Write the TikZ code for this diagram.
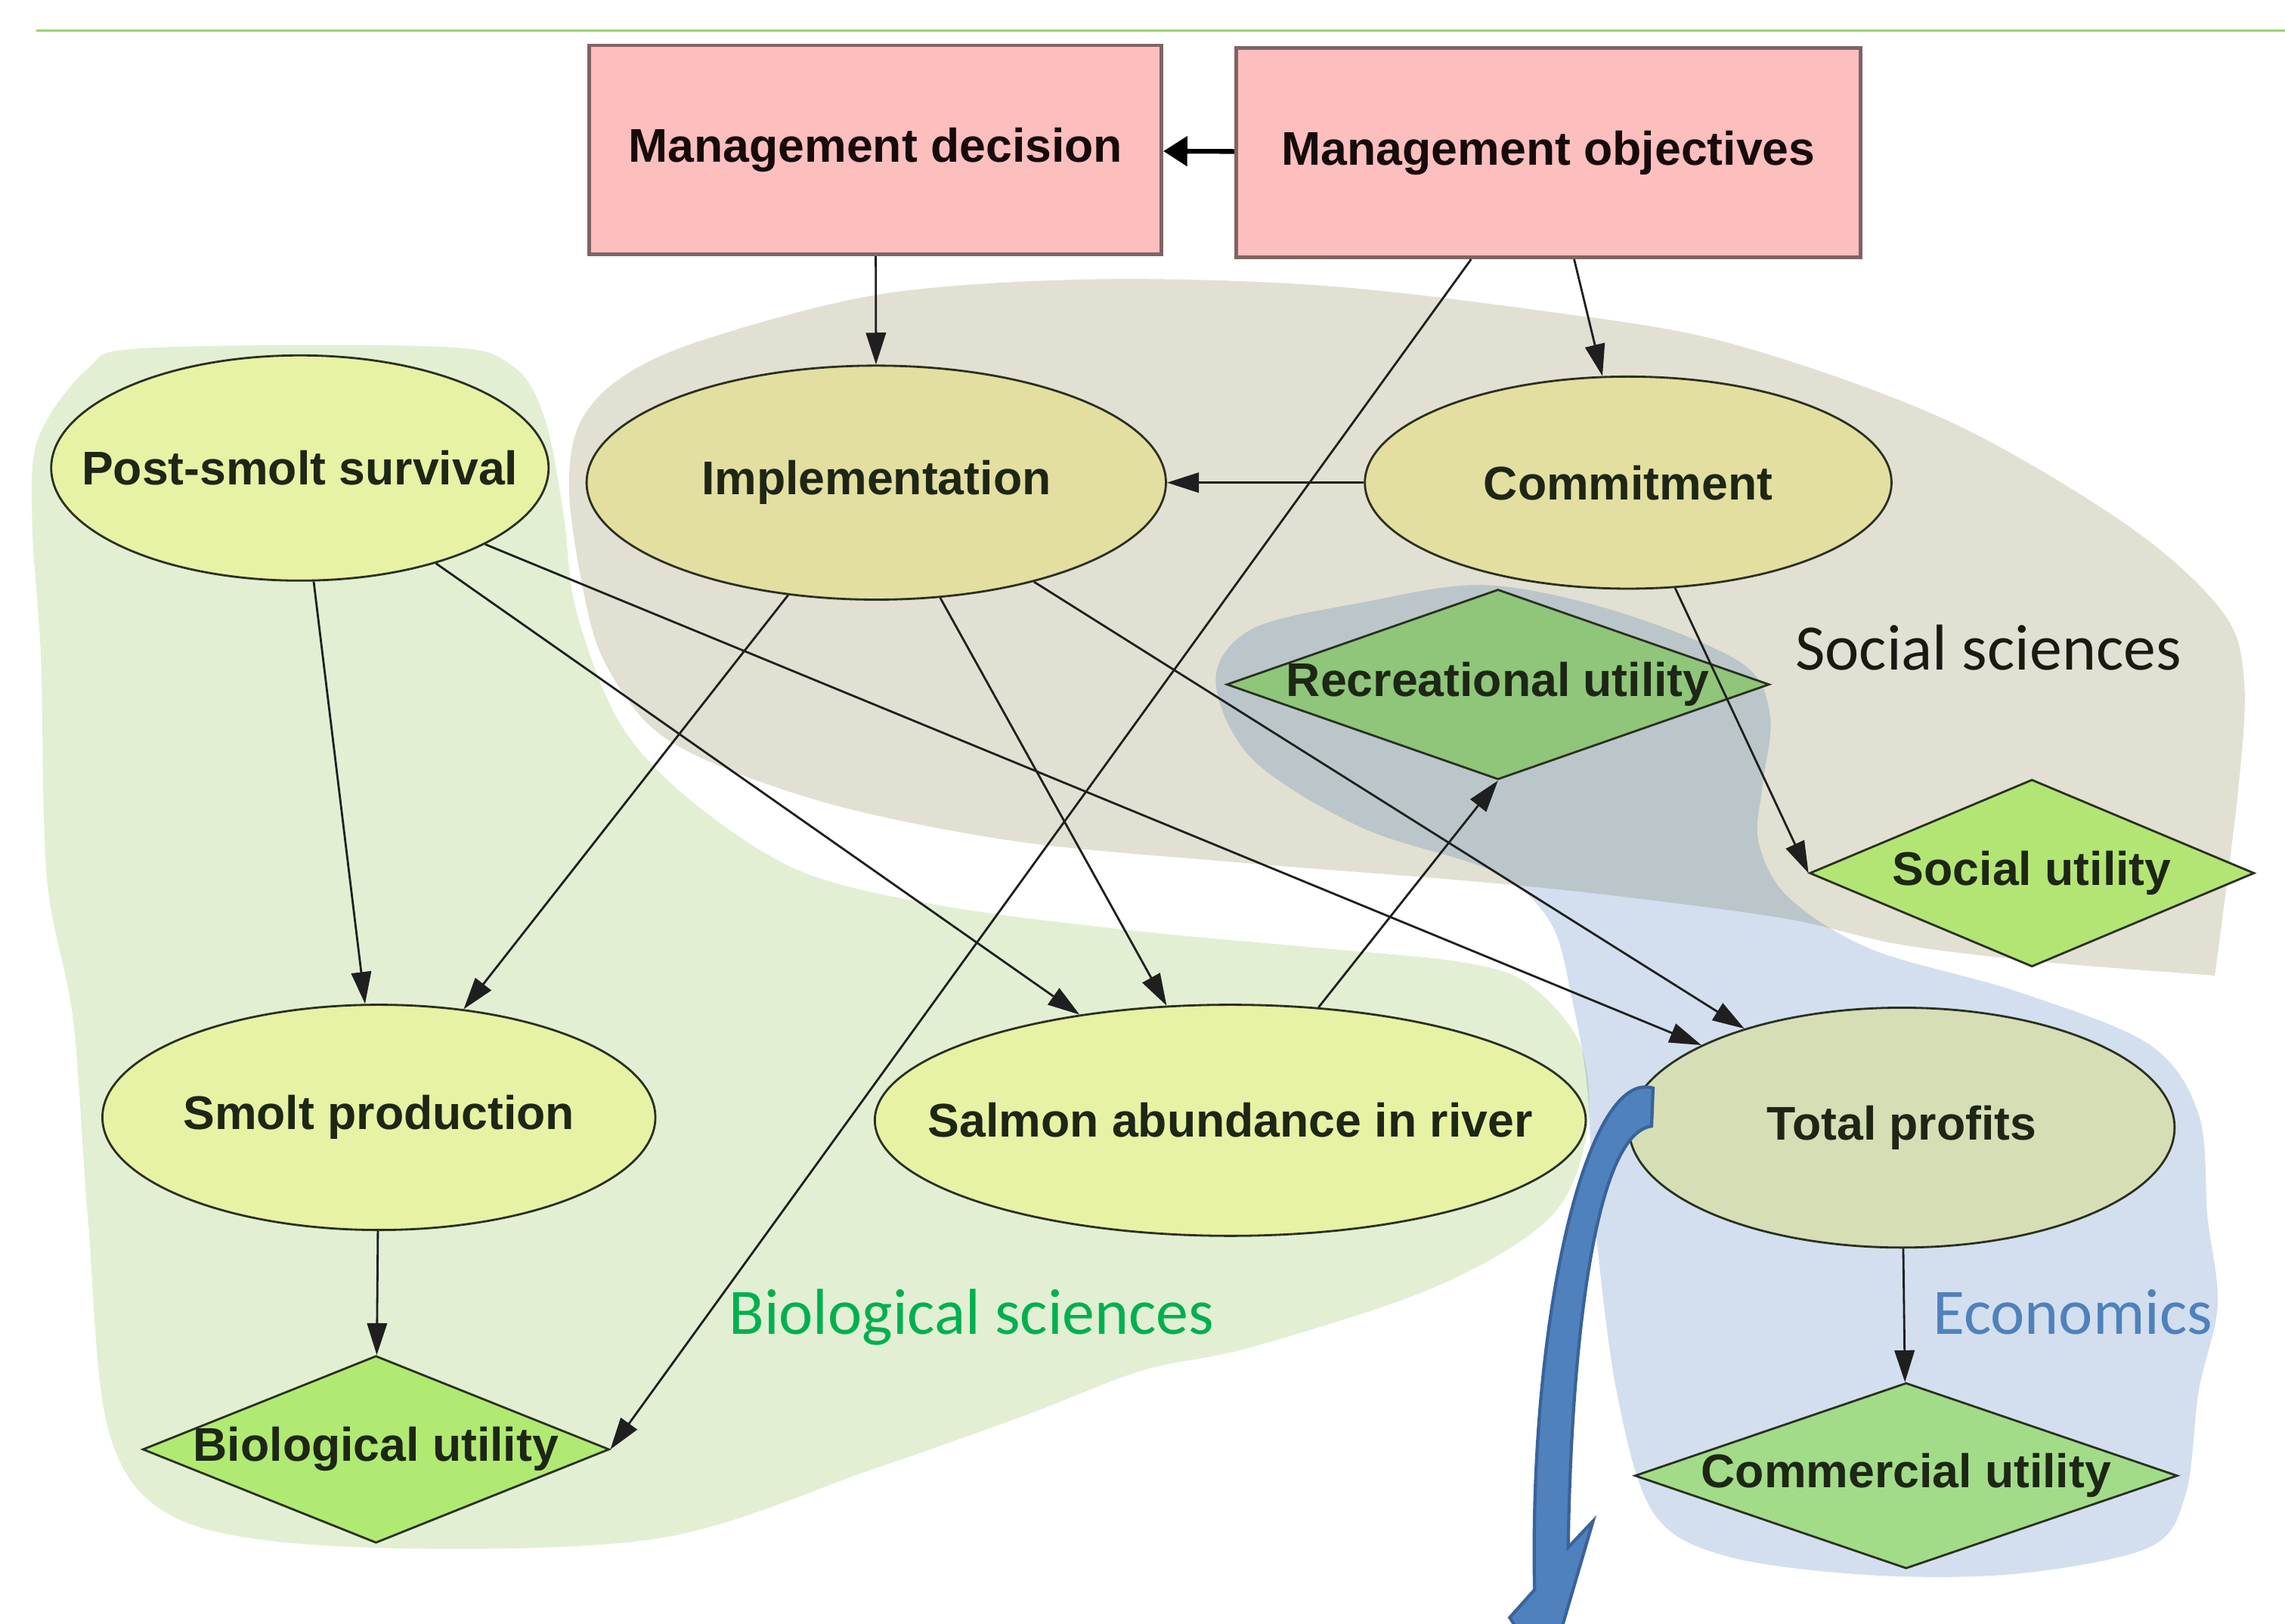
\documentclass[tikz,border=0pt]{standalone}
\usepackage{fontspec}
\usetikzlibrary{shapes.geometric,arrows.meta}
\newfontfamily\nodefont{Liberation Sans}
\newfontfamily\labfont{Carlito}
\def\Dpx{0.55068pt}
\newcommand\ztext[1]{\makebox[0pt]{#1}}
\definecolor{pinkfill}{HTML}{FDBEBE}
\definecolor{boxline}{HTML}{806464}
\definecolor{boxtext}{HTML}{160A0A}
\definecolor{nodeline}{HTML}{2A3020}
\definecolor{nodetext}{HTML}{1E2616}
\definecolor{ellgreen}{HTML}{E7F2A4}
\definecolor{ellkhaki}{HTML}{E3DFA0}
\definecolor{ellblue}{HTML}{D6DEB6}
\definecolor{diagreen}{HTML}{B0EA72}
\definecolor{diasoc}{HTML}{B3E574}
\definecolor{diarec}{HTML}{8FC67A}
\definecolor{diacomm}{HTML}{A2DC88}
\definecolor{biofill}{HTML}{E2EFD3}
\definecolor{socfill}{HTML}{E2E0D2}
\definecolor{ecofill}{HTML}{235FAA}
\definecolor{biotext}{HTML}{00B050}
\definecolor{ecotext}{HTML}{4F81BD}
\definecolor{soctext}{HTML}{1A1A12}
\definecolor{bluearrow}{HTML}{4F81BD}
\definecolor{bluearrowline}{HTML}{3A639A}
\definecolor{topline}{HTML}{9BD36B}
\begin{document}
\begin{tikzpicture}[x=0.55068pt,y=-0.55068pt,
  nodefnt/.style={font=\nodefont\bfseries\fontsize{17.8}{20}\selectfont},
  size/.style 2 args={minimum width=#1*\Dpx, minimum height=#2*\Dpx},
  box/.style={rectangle, draw=boxline, line width=1.4pt, fill=pinkfill, inner sep=0pt, nodefnt, text=boxtext},
  ell/.style={ellipse, draw=nodeline, line width=0.8pt, inner sep=0pt, nodefnt, text=nodetext},
  dia/.style={diamond, draw=nodeline, line width=0.8pt, inner sep=0pt, nodefnt, text=nodetext},
  conn/.style={draw=black!88, line width=0.8pt, -{Triangle[length=12pt,width=7.5pt]}},
  thickconn/.style={draw=black, line width=1.8pt, -{Triangle[length=9pt,width=11pt]}},
  region/.style={font=\labfont\fontsize{24.4}{29}\selectfont, anchor=base west, inner sep=0pt}
]
\useasboundingbox (0,0) rectangle (1562,1110.4);
\clip (0,0) rectangle (1562,1110.4);
\fill[white] (0,0) rectangle (1562,1110.4);

% top rule
\draw[topline, line width=0.9pt] (25,21) -- (1562,21);

% regions
\fill[biofill] plot[smooth cycle, tension=0.55] coordinates {
 (22,359) (26,300) (60,252) (100,238) (300,237) (350,250) (372,285) (385,350)
 (394,418) (424,495) (473,548) (548,596) (648,620) (781,637) (900,648) (1000,658)
 (1045,673) (1080,714) (1085,773) (1060,832) (981,880) (856,921) (781,937)
 (700,968) (598,1004) (449,1052) (249,1058) (125,1040) (75,981) (60,832)
 (50,697) (32,600) (28,450)};
\fill[socfill] plot[smooth, tension=0.55] coordinates {
 (1514,667) (1530,540) (1534,465) (1519,418) (1454,359) (1330,287) (1180,234)
 (1050,212) (900,195) (746,191) (603,201) (482,232) (425,258) (396,290) (389,335)
 (398,400) (412,450) (445,497) (495,525) (580,553) (700,576) (850,590) (1000,602)
 (1100,612) (1220,628) (1300,646) (1400,658) (1514,667)} -- cycle;
\fill[ecofill, fill opacity=0.2] plot[smooth cycle, tension=0.55] coordinates {
 (831,465) (856,430) (931,412) (1015,400) (1105,418) (1190,453) (1210,489)
 (1205,536) (1202,575) (1222,613) (1279,649) (1379,678) (1469,714) (1503,762)
 (1509,832) (1516,892) (1503,951) (1494,1022) (1469,1058) (1379,1076) (1279,1077)
 (1180,1064) (1130,1034) (1105,951) (1090,832) (1085,744) (1075,685) (1060,631)
 (1021,596) (931,566) (856,519)};

% nodes
\node[box, size={391}{143}] (dec) at (598.5,102.5) {Management decision};
\node[box, size={427}{143}] (obj) at (1058.5,104.5) {Management objectives};
\node[ell, fill=ellgreen, size={340}{154}] (ps) at (205,320) {\ztext{Post-smolt survival}};
\node[ell, fill=ellkhaki, size={396}{160}] (impl) at (599,330) {\ztext{Implementation}};
\node[ell, fill=ellkhaki, size={360}{145}] (com) at (1113,330) {\ztext{Commitment}};
\node[ell, fill=ellgreen, size={378}{154}] (smolt) at (259,764) {\ztext{Smolt production}};
\node[ell, fill=ellgreen, size={486}{158}] (salmon) at (841,766) {\ztext{Salmon abundance in river}};
\node[ell, fill=ellblue, size={373}{164}] (tp) at (1300,771) {\ztext{Total profits}};
\node[dia, fill=diarec, size={371}{130}] (rec) at (1024,468) {\ztext{Recreational utility}};
\node[dia, fill=diasoc, size={304}{128}] (soc) at (1389,597) {\ztext{Social utility}};
\node[dia, fill=diagreen, size={319}{128}] (bio) at (257,991) {\ztext{Biological utility}};
\node[dia, fill=diacomm, size={371}{127}] (comm) at (1303,1009) {\ztext{Commercial utility}};

% connectors
\draw[thickconn] (obj) -- (dec);
\draw[conn] (dec) -- (impl);
\draw[conn] (obj) -- (com);
\draw[conn] (obj.-126.8) -- (bio.east);
\draw[conn] (com) -- (impl);
\draw[conn] (com.-66) -- (soc.west);
\draw[conn] (ps) -- (smolt);
\draw[conn] (ps) -- (salmon);
\draw[conn] (ps) -- (tp);
\draw[conn] (impl) -- (smolt);
\draw[conn] (impl) -- (salmon);
\draw[conn] (impl) -- (tp);
\draw[conn] (salmon.52) -- (rec.south);
\draw[conn] (smolt) -- (bio);
\draw[conn] (tp) -- (comm);

% region labels
\node[region, text=soctext] (lsoc) at (1227,458) {Social sciences};
\node[region, text=biotext] (lbio) at (498,912) {Biological sciences};
\node[region, text=ecotext] (leco) at (1321,912) {Economics};

% big blue curved arrow
\filldraw[fill=bluearrow, draw=bluearrowline, line width=1.2pt, line join=miter]
 (1130,744) .. controls (1085,730) and (1045,900) .. (1049,1087)
 -- (1032,1106) -- (1058,1146) -- (1089,1040) -- (1072,1058)
 .. controls (1074,920) and (1090,775) .. (1129,770) -- cycle;
\end{tikzpicture}
\end{document}
